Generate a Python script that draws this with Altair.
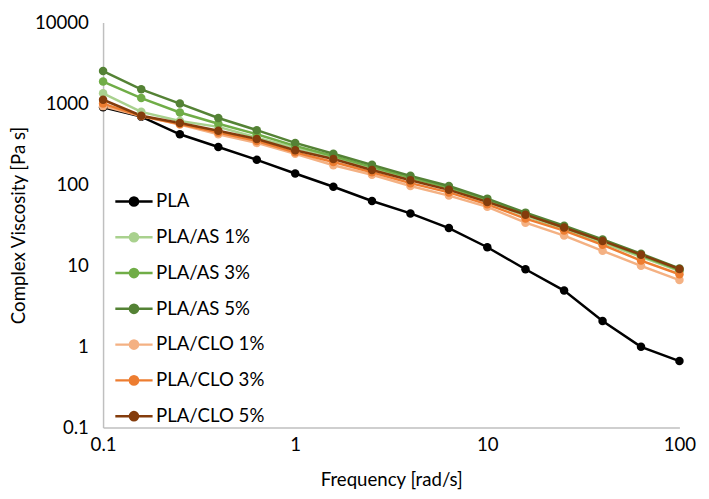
import altair as alt
import pandas as pd

freq = [0.1, 0.158, 0.251, 0.398, 0.631, 1, 1.58, 2.51, 3.98, 6.31, 10, 15.8, 25.1, 39.8, 63.1, 100]

series_names = ["PLA", "PLA/AS 1%", "PLA/AS 3%", "PLA/AS 5%", "PLA/CLO 1%", "PLA/CLO 3%", "PLA/CLO 5%"]
series_colors = ["#000000", "#a9d18e", "#70ad47", "#548235", "#f4b183", "#ed7d31", "#843c0c"]

pla = [900, 690, 418, 291, 202, 137, 94, 62.6, 44, 29, 16.8, 9.0, 4.9, 2.06, 0.99, 0.66]
as1 = [1340, 790, 610, 515, 380, 285, 215, 160, 118, 88, 61, 41, 28, 19, 12.8, 8.5]
as3 = [1870, 1170, 776, 563, 418, 300, 225, 165, 122, 92, 64, 43, 29.5, 20, 13.3, 8.8]
as5 = [2520, 1500, 1000, 664, 470, 327, 240, 175, 128, 96, 67, 45, 31, 21, 14, 9.2]
clo1 = [930, 700, 550, 418, 327, 240, 173, 132, 96, 73, 53, 33.8, 23.4, 15.2, 9.9, 6.6]
clo3 = [1000, 700, 560, 440, 345, 250, 190, 142, 104, 80, 57, 38, 27, 18, 11.5, 7.8]
clo5 = [1115, 708, 575, 462, 365, 265, 207, 151, 113, 86, 61, 42.4, 29.5, 20.1, 13.6, 9.05]

all_series = [pla, as1, as3, as5, clo1, clo3, clo5]

rows = []
for name, vals in zip(series_names, all_series):
    for f, v in zip(freq, vals):
        rows.append({"Frequency": f, "Viscosity": v, "Sample": name})
df = pd.DataFrame(rows)

FONT = "Lato"
legend_symbol = "M-1,0L1,0M-0.22,0A0.22,0.22,0,1,1,0.22,0A0.22,0.22,0,1,1,-0.22,0Z"

chart = alt.Chart(df).mark_line(
    strokeWidth=2.5,
    point=alt.OverlayMarkDef(filled=True, size=75, opacity=1),
).encode(
    x=alt.X("Frequency:Q",
            scale=alt.Scale(type="log", domain=[0.1, 100], nice=False),
            axis=alt.Axis(title="Frequency [rad/s]", values=[0.1, 1, 10, 100],
                          format="~g", grid=False, ticks=False, labelFlush=False,
                          labelPadding=9, titlePadding=16,
                          domainColor="#bfbfbf", domainWidth=1.5)),
    y=alt.Y("Viscosity:Q",
            scale=alt.Scale(type="log", domain=[0.1, 10000], nice=False),
            axis=alt.Axis(title="Complex Viscosity [Pa s]", values=[0.1, 1, 10, 100, 1000, 10000],
                          format="~g", grid=False, ticks=False, labelFlush=False,
                          labelPadding=15, titlePadding=6,
                          domainColor="#bfbfbf", domainWidth=1.5)),
    color=alt.Color("Sample:N",
                    scale=alt.Scale(domain=series_names, range=series_colors),
                    sort=series_names,
                    legend=alt.Legend(orient="none", legendX=11, legendY=162, title=None,
                                      symbolType=legend_symbol, symbolSize=1444,
                                      symbolStrokeWidth=2.5, labelFontSize=19,
                                      labelFont=FONT, labelColor="#000000",
                                      labelOffset=2, rowPadding=5.5)),
).properties(
    width=588, height=413,
    padding={"left": 1, "top": 1, "right": 5, "bottom": 0},
).configure_view(
    stroke=None
).configure_axis(
    labelFont=FONT, titleFont=FONT, labelFontSize=19, titleFontSize=19,
    titleFontWeight="normal", labelColor="#000000", titleColor="#000000"
)

chart.save("out.html", embed_options={"renderer": "svg", "actions": False})
